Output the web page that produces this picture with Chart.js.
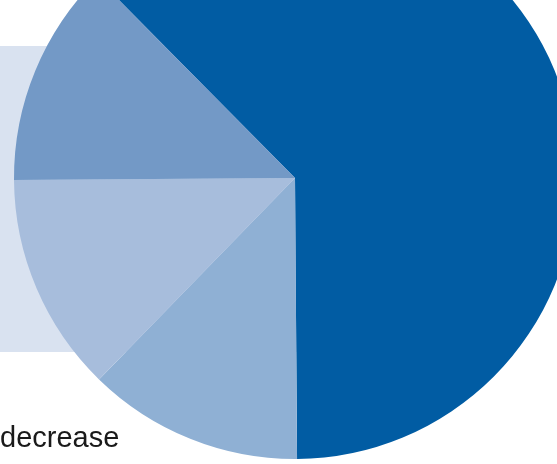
<!DOCTYPE html>
<html lang="en">
<head>
    <meta charset="UTF-8">
    <title>Pie</title>
    <script src="https://cdn.jsdelivr.net/npm/chart.js"></script>
    <style>
        html, body { margin: 0; padding: 0; width: 557px; height: 464px; overflow: hidden; background: #fff; }
        #panel { position: absolute; left: 0; top: 46px; width: 300px; height: 306px; background: #d9e2f0; }
        #wrap { position: absolute; left: -5px; top: -122px; width: 600px; height: 600px; }
        #note { position: absolute; left: 0; top: 421px; font-family: "Liberation Sans", Arial, sans-serif; font-size: 29px; color: #1a1a1a; }
    </style>
</head>
<body>
    <div id="panel"></div>
    <div id="wrap"><canvas id="myChart"></canvas></div>
    <div id="note">decrease</div>

    <script>
        // slices, clockwise from the start angle
        const labels = ['A', 'B', 'C', 'D'];
        const values = [62.3, 12.4, 12.6, 12.7];
        const colors = ['#015ca3', '#8fb0d4', '#a7bddc', '#7399c6'];

        new Chart(document.getElementById('myChart'), {
            type: 'pie',
            data: {
                labels: labels,
                datasets: [{
                    data: values,
                    backgroundColor: colors,
                    borderWidth: 0,
                    hoverOffset: 0,
                    offset: 0
                }]
            },
            options: {
                responsive: true,
                maintainAspectRatio: false,
                animation: false,
                rotation: -44.7,
                radius: 281,
                layout: { padding: 0 },
                plugins: {
                    legend: { display: false },
                    tooltip: { enabled: false }
                }
            }
        });
    </script>
</body>
</html>
